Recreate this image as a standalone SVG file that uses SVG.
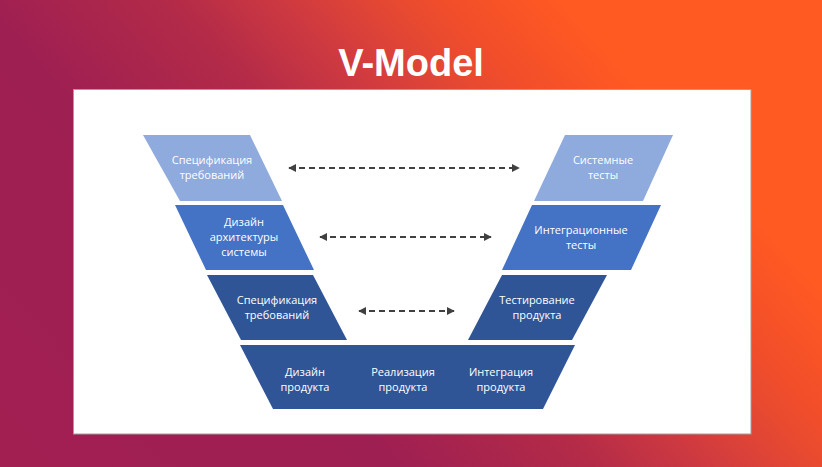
<svg xmlns="http://www.w3.org/2000/svg" width="822" height="467" viewBox="0 0 822 467">
<defs>
<linearGradient id="bg" gradientUnits="userSpaceOnUse" x1="0" y1="467" x2="686" y2="-150">
<stop offset="0" stop-color="#A21F52"/>
<stop offset="0.32" stop-color="#9E1F52"/>
<stop offset="0.48" stop-color="#B42B48"/>
<stop offset="0.57" stop-color="#CF3A40"/>
<stop offset="0.66" stop-color="#E84A30"/>
<stop offset="0.70" stop-color="#F24E2A"/>
<stop offset="0.79" stop-color="#FF5A22"/>
<stop offset="1" stop-color="#FF5A22"/>
</linearGradient>
<marker id="ah" viewBox="0 0 10 10" refX="9" refY="5" markerWidth="4" markerHeight="4" orient="auto-start-reverse" markerUnits="strokeWidth">
<path d="M0,0 L10,5 L0,10 z" fill="#404040"/>
</marker>
<style>
.l1{fill:#8FAADC}
.l2{fill:#4472C4}
.l3{fill:#2F5597}
.t{font-family:"Open Sans","Noto Sans",sans-serif;font-size:11px;fill:#FFFFFF;text-anchor:middle}
.c{stroke:#404040;stroke-width:2;stroke-dasharray:6 4;fill:none;marker-start:url(#ah);marker-end:url(#ah)}
</style>
</defs>
<rect x="0" y="0" width="822" height="467" fill="url(#bg)"/>
<text x="411" y="76" font-family="Liberation Sans, Arial, sans-serif" font-weight="bold" font-size="38" fill="#FFFFFF" text-anchor="middle">V-Model</text>
<rect x="73.5" y="89.5" width="677.5" height="344.5" fill="#FFFFFF" stroke="#A0A0A0" stroke-width="1"/>

<g id="connectors">
<line class="c" x1="289" y1="168" x2="519" y2="168"/>
<line class="c" x1="320" y1="237" x2="491" y2="237"/>
<line class="c" x1="359" y1="311" x2="454" y2="311"/>
</g>

<g id="n-spec-req">
<polygon class="l1" points="143,135 250,135 282,201 180,201"/>
<text class="t" x="212" y="164">Спецификация</text>
<text class="t" x="212" y="179">требований</text>
</g>
<g id="n-arch">
<polygon class="l2" points="175,205 283,205 314,270 206,270"/>
<text class="t" x="244" y="226">Дизайн</text>
<text class="t" x="244" y="241">архитектуры</text>
<text class="t" x="244" y="256">системы</text>
</g>
<g id="n-spec-req2">
<polygon class="l3" points="207,275 313,275 347,340 241,340"/>
<text class="t" x="277" y="304">Спецификация</text>
<text class="t" x="277" y="319">требований</text>
</g>
<g id="n-sys-tests">
<polygon class="l1" points="565,135 673,135 643,201 534,201"/>
<text class="t" x="603" y="164">Системные</text>
<text class="t" x="603" y="179">тесты</text>
</g>
<g id="n-int-tests">
<polygon class="l2" points="532,205 661,205 631,270 502,270"/>
<text class="t" x="581" y="234">Интеграционные</text>
<text class="t" x="581" y="249">тесты</text>
</g>
<g id="n-prod-test">
<polygon class="l3" points="502,275 607,275 572,340 468,340"/>
<text class="t" x="537" y="304">Тестирование</text>
<text class="t" x="537" y="319">продукта</text>
</g>
<g id="n-bottom">
<polygon class="l3" points="240,345 575,345 543,409 273,409"/>
<text class="t" x="305" y="376">Дизайн</text>
<text class="t" x="305" y="391">продукта</text>
<text class="t" x="403" y="376">Реализация</text>
<text class="t" x="403" y="391">продукта</text>
<text class="t" x="501" y="376">Интеграция</text>
<text class="t" x="501" y="391">продукта</text>
</g>
</svg>
